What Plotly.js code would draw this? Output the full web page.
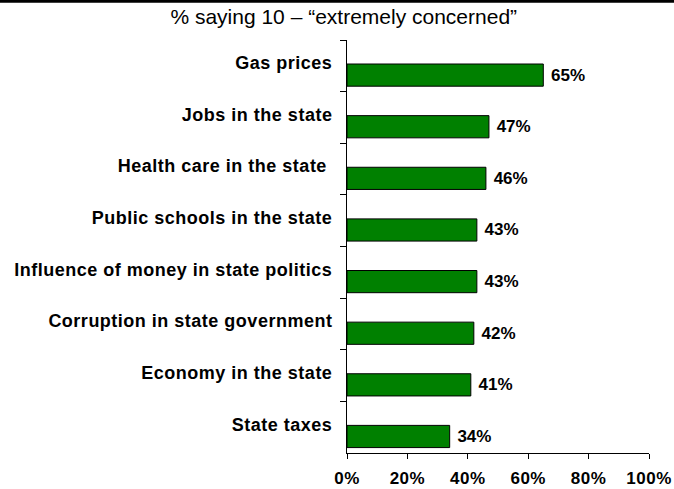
<!DOCTYPE html>
<html><head><meta charset="utf-8">
<script src="https://cdn.plot.ly/plotly-3.0.1.min.js"></script>
<style>html,body{margin:0;padding:0;background:#fff;}#chart{width:674px;height:489px;}
.ytick text{letter-spacing:0.5px;}
.xtick text, .textpoint text{letter-spacing:0.5px;}
</style>
</head><body><div id="chart"></div>
<script>
const categories = ["Gas prices","Jobs in the state","Health care in the state ","Public schools in the state","Influence of money in state politics","Corruption in state government","Economy in the state","State taxes"];
const values = [65,47,46,43,43,42,41,34];
const valueLabels = ["65%","47%","46%","43%","43%","42%","41%","34%"];
const tickVals = [0,20,40,60,80,100];
const tickText = ["0%","20%","40%","60%","80%","100%"];
const chartTitle = "% saying 10 – \u201cextremely concerned\u201d";

const font = "Liberation Sans, Arial, sans-serif";
const trace = {
  type: "bar", orientation: "h",
  x: values, y: categories,
  width: 0.43, offset: -0.035,
  marker: {color: "#008000", line: {color: "#000", width: 1}},
  text: valueLabels.map(t => "\u00a0" + t), textposition: "outside", cliponaxis: false,
  textfont: {family: font, size: 17, color: "#000", weight: "bold"},
  hoverinfo: "none"
};
const layout = {
  width: 674, height: 489,
  margin: {l: 347, r: 25, t: 40, b: 36},
  paper_bgcolor: "#fff", plot_bgcolor: "#fff",
  showlegend: false,
  title: {text: chartTitle, font: {family: font, size: 21, color: "#000"}, x: 0.51, xanchor: "center", y: 0.965, yanchor: "middle"},
  xaxis: {range: [0, 100], tickvals: tickVals, ticktext: tickText, showgrid: false, zeroline: false,
    showline: true, linecolor: "#000", linewidth: 1, ticks: "outside", ticklen: 5, tickcolor: "#000",
    ticklabelstandoff: 5,
    tickfont: {family: font, size: 17, color: "#000", weight: "bold"}, fixedrange: true},
  yaxis: {type: "category", autorange: "reversed", tickson: "boundaries", showgrid: false, zeroline: false,
    showline: true, linecolor: "#000", linewidth: 1, ticks: "outside", ticklen: 6, tickcolor: "#000",
    ticklabelstandoff: 10, ticklabelshift: 3,
    tickfont: {family: font, size: 18, color: "#000", weight: "bold"}, fixedrange: true},
  shapes: [{type: "line", xref: "paper", yref: "paper", x0: -1.2, x1: 1.2, y0: 1.094, y1: 1.094, line: {color: "#000", width: 3}}]
};
Plotly.newPlot("chart", [trace], layout, {displayModeBar: false, staticPlot: true});
</script></body></html>
